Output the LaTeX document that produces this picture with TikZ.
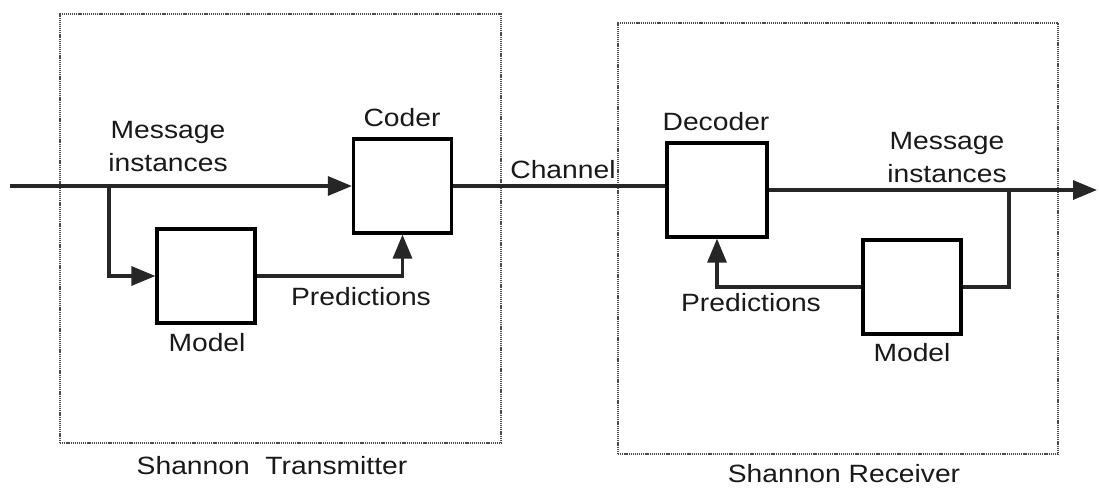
\documentclass[tikz,border=0pt]{standalone}
\usepackage{fontspec}
\setmainfont[FakeStretch=1.13]{Liberation Sans}
\usetikzlibrary{arrows.meta}
\begin{document}
\begin{tikzpicture}[x=1pt,y=-1pt,
  blk/.style={draw=black, line width=3.2pt, fill=white, minimum width=98pt, minimum height=94pt, inner sep=0pt},
  frame/.style={draw=black!70, line width=2.4pt, dash pattern=on 1.2pt off 0.9pt, inner sep=0pt},
  wire/.style={line width=3.2pt, draw=black!85},
  arr/.style={wire, -{Triangle[length=24pt,width=19pt]}},
  lbl/.style={font=\fontsize{25}{33}\selectfont, align=center, inner sep=0pt, text=black!90}]
\useasboundingbox (0,0) rectangle (1099,490);
% frames
\node[frame, minimum width=441pt, minimum height=429pt] (tx) at (280.5,228.5) {};
\node[frame, minimum width=440pt, minimum height=431pt] (rx) at (838,238.5) {};
% blocks
\node[blk] (coder) at (402.5,186) {};
\node[blk] (modelL) at (206,276) {};
\node[blk, minimum width=100pt] (decoder) at (717,190) {};
\node[blk] (modelR) at (912,287) {};
% coordinates
\coordinate (in) at (10,186);
\coordinate (br1) at (109,186);
\coordinate (br2) at (1009,190);
\coordinate (out) at (1097,190);
% connectors
\draw[arr] (in) -- (coder.west);
\draw[arr] (br1) |- (modelL.west);
\draw[arr] (modelL.east) -| (coder.south);
\draw[wire] (coder.east) -- (decoder.west |- coder.east);
\draw[arr] (decoder.east) -- (out);
\draw[wire] (br2) |- (modelR.east);
\draw[arr] (modelR.west) -| (decoder.south);
% labels
\node[lbl] (lcoder) at (402,118) {Coder};
\node[lbl] (ldecoder) at (716,122) {Decoder};
\node[lbl] (lmsgL) at (168,147) {Message\\instances};
\node[lbl] (lmsgR) at (947,158) {Message\\instances};
\node[lbl] (lchan) at (563,170) {Channel};
\node[lbl] (lpredL) at (361,297) {Predictions};
\node[lbl] (lpredR) at (751,303) {Predictions};
\node[lbl] (lmodelL) at (207,343) {Model};
\node[lbl] (lmodelR) at (912,353) {Model};
\node[lbl] (ltx) at (272,466) {Shannon\ \ Transmitter};
\node[lbl] (lrx) at (844,474) {Shannon Receiver};
\end{tikzpicture}
\end{document}
